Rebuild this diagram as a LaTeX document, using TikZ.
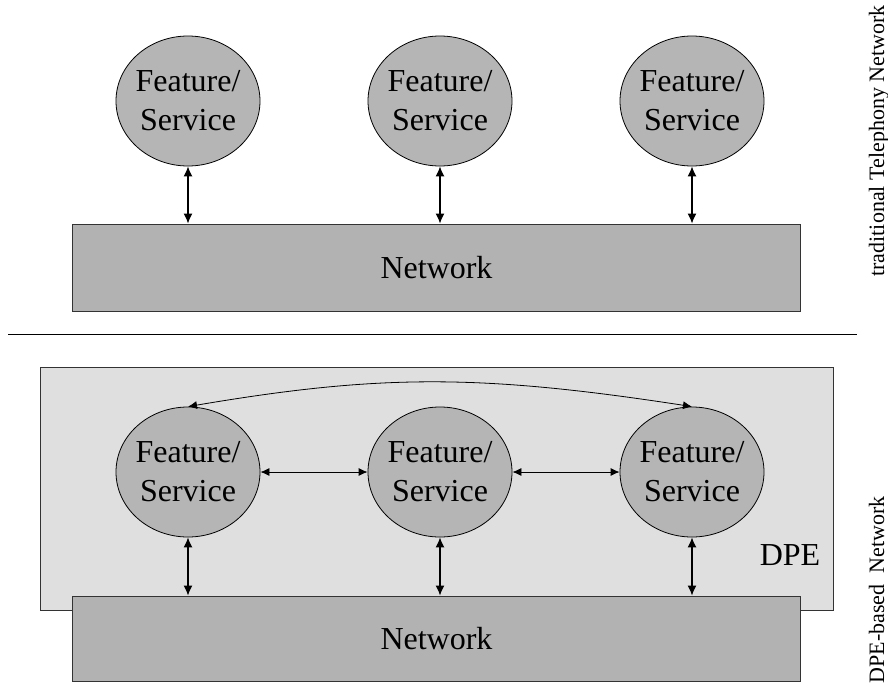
\documentclass[tikz,border=0pt]{standalone}
\usepackage{fontspec}
\setmainfont{Liberation Serif}
\usetikzlibrary{shapes.geometric,arrows.meta}
\definecolor{ellfill}{gray}{0.71}
\definecolor{netfill}{gray}{0.70}
\definecolor{dpefill}{gray}{0.875}
\definecolor{boxline}{gray}{0.2}
\begin{document}
\begin{tikzpicture}[x=1pt,y=-1pt,
  fs/.style={ellipse,draw=black,line width=0.8pt,fill=ellfill,minimum width=144pt,minimum height=130pt,inner sep=0pt,
    label={[align=center,font=\fontsize{32}{39}\selectfont]center:Feature/\\Service}},
  net/.style={rectangle,draw=boxline,line width=1pt,fill=netfill,inner sep=0pt,font=\fontsize{32}{39}\selectfont},
  biarrow/.style={{Latex[length=10pt,width=9pt]}-{Latex[length=10pt,width=9pt]},line width=1.2pt},
  harrow/.style={{Latex[length=9pt,width=8pt]}-{Latex[length=9pt,width=8pt]},line width=0.8pt},
  sidelabel/.style={rotate=90,anchor=base,font=\fontsize{22}{26}\selectfont}]
\useasboundingbox (0,0) rectangle (888,683);
% top part
\node[net,minimum width=728pt,minimum height=87pt] (net1) at (436.5,267.5) {Network};
\node[fs] (f1) at (188,101) {};
\node[fs] (f2) at (440,101) {};
\node[fs] (f3) at (692,101) {};
\draw[biarrow] (f1.south) -- (f1.south |- net1.north);
\draw[biarrow] (f2.south) -- (f2.south |- net1.north);
\draw[biarrow] (f3.south) -- (f3.south |- net1.north);
% separator
\coordinate (sepL) at (8,334.5);
\coordinate (sepR) at (857,334.5);
\draw[line width=1pt] (sepL) -- (sepR);
% bottom part
\node[rectangle,draw=boxline,line width=1pt,fill=dpefill,minimum width=793pt,minimum height=243pt,inner sep=0pt] (dpe) at (436.5,488.5) {};
\node[net,minimum width=728pt,minimum height=85pt] (net2) at (436.5,638.5) {Network};
\node[fs] (f4) at (188,472) {};
\node[fs] (f5) at (440,472) {};
\node[fs] (f6) at (692,472) {};
\draw[biarrow] (f4.south) -- (f4.south |- net2.north);
\draw[biarrow] (f5.south) -- (f5.south |- net2.north);
\draw[biarrow] (f6.south) -- (f6.south |- net2.north);
\draw[harrow] (f4.east) -- (f5.west);
\draw[harrow] (f5.east) -- (f6.west);
\draw[harrow] (f4.north) .. controls (380,374) and (480,374) .. (f6.north);
\node[anchor=base,font=\fontsize{32}{36}\selectfont] (dpelabel) at (790,565) {DPE};
% side labels
\node[sidelabel] (lab1) at (884,141) {traditional Telephony Network};
\node[sidelabel] (lab2) at (884,590) {DPE-based\ \ Network};
\end{tikzpicture}
\end{document}
